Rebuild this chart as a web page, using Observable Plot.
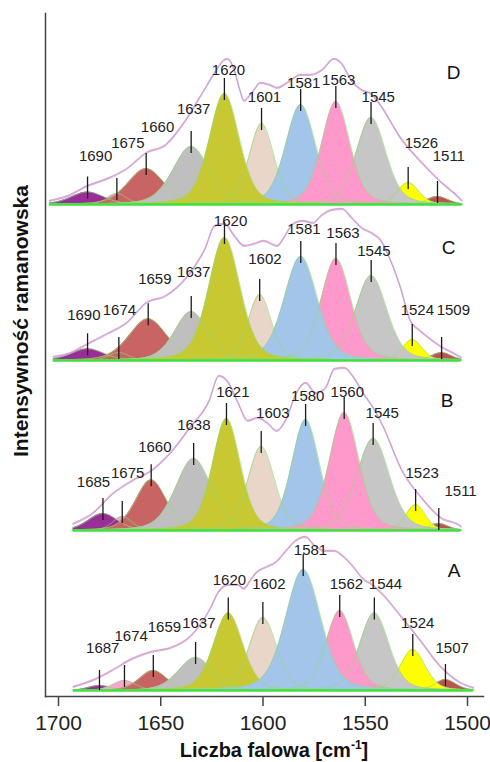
<!DOCTYPE html>
<html>
<head>
<meta charset="utf-8">
<script src="https://cdn.jsdelivr.net/npm/d3@7"></script>
<script src="https://cdn.jsdelivr.net/npm/@observablehq/plot@0.6"></script>
<style>
  html, body { margin: 0; padding: 0; background: #fff; }
  #fig { position: relative; width: 490px; height: 762px; background: #fff; overflow: hidden; }
  #fig svg { position: absolute; left: 0; top: 0; }
  .lab { position: absolute; font-family: 'Liberation Sans', Arial, sans-serif; font-weight: bold; color: #111; white-space: nowrap; line-height: 1; }
</style>
</head>
<body>
<div id="fig"></div>
<script>
// ---------- DATA ----------
const bandPalette = ["#992e99", "#ffa3d3", "#c86464", "#bfbfbf", "#c8c832", "#ead5c9", "#a3c5ea", "#ff99cc", "#c6c6c6", "#ffff00", "#b85454"];
const xTicks = [1700, 1650, 1600, 1550, 1500];

// Panel D
const centersD = [1690, 1675, 1660, 1637, 1620, 1601, 1581, 1563, 1545, 1526, 1511];
const heightsD = [12.5, 11, 36, 58, 111, 81, 100, 103, 87, 22, 8];
const widthsD  = [20, 12, 22, 22, 18, 15, 18, 17, 18, 13, 13];
const labelWnD = [1685.9, 1669.4, 1654.2, 1635.7, 1617.9, 1599.5, 1579.4, 1561.5, 1541.3, 1519.2, 1505.2];
const labelLevelsD = [48, 61, 77, 95, 134, 107, 121, 124, 107, 61, 48];
const envelopeD = [[1709.5,4],[1700,9],[1690,19],[1680,26],[1670,36],[1660,52],[1650,60],[1640,84],[1630,116],[1625,132],[1620,145],[1618.5,146],[1615,135],[1612,114],[1610,104],[1606,112],[1601.5,122],[1597,120],[1593,117],[1588,122],[1581,130],[1576,130],[1570,135],[1564,146],[1560,141],[1555,124],[1550,115],[1545,111],[1540,99],[1530,67],[1520,44],[1510,24],[1500,7],[1498.5,4]];

// Panel C
const centersC = [1690, 1674, 1659, 1637, 1620, 1602, 1581, 1563, 1545, 1524, 1509];
const heightsC = [11.7, 8, 41.7, 49, 123, 66, 104, 102, 85, 21, 8];
const widthsC  = [20, 12, 23, 20, 19, 14, 20, 18, 19, 12, 12];
const labelWnC = [1691.9, 1673.7, 1655.6, 1635.7, 1616.9, 1599.3, 1579.4, 1559.4, 1543.6, 1521.4, 1503];
const labelLevelsC = [45, 50, 81, 88, 139, 101, 131, 127, 109, 50, 50];
const envelopeC = [[1707.5,4],[1700,7],[1690,17],[1680,27],[1670,38],[1660,58],[1650,65],[1640,82],[1630,112],[1625,135],[1620,137],[1615,125],[1610,115],[1605,117],[1600,120],[1595,116],[1593,115],[1590,122],[1585,137],[1580,140],[1575,138],[1570,146],[1565,151],[1560,152],[1555,143],[1550,133],[1545,128],[1540,120],[1535,100],[1530,73],[1525,40],[1520,30],[1515,22],[1510,15],[1500,4.3],[1499,3]];

// Panel B
const centersB = [1685, 1675, 1660, 1638, 1621, 1603, 1580, 1560, 1545, 1523, 1511];
const heightsB = [17, 14, 50.7, 72, 112, 84, 111, 118, 92, 26, 7];
const widthsB  = [18, 12, 19, 22, 17, 16.5, 17, 18, 20, 12, 12];
const labelWnB = [1689.9, 1672.2, 1658.1, 1637.9, 1617.7, 1597, 1578.9, 1558.4, 1540.3, 1519.6, 1499.7];
const labelLevelsB = [48, 57, 83, 105, 138, 117, 134, 138, 117, 57, 39];
const envelopeB = [[1700.5,7],[1690,18],[1680,37],[1670,50],[1660,60],[1650,78],[1640,103],[1630,130],[1625,155],[1620,148],[1615,128],[1610,110],[1605,113],[1600,108],[1595,100],[1590,112],[1585,137],[1580,148],[1575,138],[1570,142],[1565,162],[1560,163],[1555,153],[1550,137],[1545,123],[1540,105],[1530,60],[1520,33],[1510,13],[1500,5],[1499.5,4]];

// Panel A
const centersA = [1687, 1674, 1659, 1637, 1620, 1602, 1581, 1562, 1544, 1524, 1507];
const heightsA = [5, 10, 20, 33, 77.6, 73, 121, 80, 77.6, 41, 11];
const widthsA  = [14, 14, 17, 21, 18, 17, 21.7, 17, 18, 15.5, 13];
const labelWnA = [1685.3, 1670.5, 1653.2, 1635.3, 1619.4, 1598.9, 1577.2, 1558.5, 1538.2, 1521.4, 1503.5];
const labelLevelsA = [42, 54, 63, 67, 110, 106, 140, 106, 106, 67, 42];
const envelopeA = [[1700.7,4],[1690,11],[1680,21],[1670,32],[1660,39],[1650,43],[1640,54],[1630,80],[1625,99],[1620,106],[1615,106],[1612,102],[1608,112],[1605,119],[1600,124],[1595,129],[1590,140],[1585,150],[1580,154],[1575,145],[1570,140],[1565,140],[1560,134],[1555,124],[1550,112],[1545,106],[1540,97],[1530,74],[1520,50],[1510,25],[1500,9],[1492.5,3]];

// ---------- LAYOUT ----------
const panelLayout = [
  {name: "D", centers: centersD, heights: heightsD, widths: widthsD, labelWn: labelWnD, labels: labelLevelsD, envelope: envelopeD, xRange: [67.5, 458.5], baseline: 204, letterTop: 65, letterRight: 460},
  {name: "C", centers: centersC, heights: heightsC, widths: widthsC, labelWn: labelWnC, labels: labelLevelsC, envelope: envelopeC, xRange: [67.5, 458.7], baseline: 360, letterTop: 240, letterRight: 455},
  {name: "B", centers: centersB, heights: heightsB, widths: widthsB, labelWn: labelWnB, labels: labelLevelsB, envelope: envelopeB, xRange: [73.5, 459.5], baseline: 530, letterTop: 393, letterRight: 453},
  {name: "A", centers: centersA, heights: heightsA, widths: widthsA, labelWn: labelWnA, labels: labelLevelsA, envelope: envelopeA, xRange: [74, 458.4], baseline: 690, letterTop: 563, letterRight: 460}
];

const W = 490, H = 762;
const FONT = "'Liberation Sans', Arial, sans-serif";
const fig = document.getElementById("fig");

// fitted band profile (pseudo-Voigt) from each band's centre, height and width
const ETA = 0.3;
function profile(x, c, h, w) {
  const t = (x - c) / w;
  return h * ((1 - ETA) * Math.exp(-4 * Math.LN2 * t * t) + ETA / (1 + 4 * t * t));
}

// ---------- AXIS FRAME ----------
const axisPlot = Plot.plot({
  width: W, height: H,
  marginLeft: 45, marginRight: 7, marginTop: 13, marginBottom: 66,
  style: {fontFamily: FONT, background: "transparent", color: "#222"},
  x: {domain: [1700, 1500], range: [58, 467], axis: null},
  y: {domain: [0, 1], axis: null},
  marks: [
    Plot.frame({anchor: "left", stroke: "#444", strokeWidth: 1.5}),
    Plot.frame({anchor: "bottom", stroke: "#444", strokeWidth: 1.5}),
    Plot.axisX(xTicks, {anchor: "bottom", tickSize: 10, tickPadding: 9, fontSize: 21, label: null, tickFormat: d => String(d), stroke: "#444", strokeWidth: 1.5, fill: "#222"})
  ]
});
fig.appendChild(axisPlot);

// ---------- PANELS ----------
for (const p of panelLayout) {
  const peaks = p.centers.map((c, i) => ({wn: c, h: p.heights[i], w: p.widths[i], lx: p.labelWn[i], ly: p.labels[i], band: i}));
  const lo = d3.min(p.envelope, d => d[0]);
  const hi = d3.max(p.envelope, d => d[0]);
  const order = d3.sort(peaks, d => d.h);
  const pts = [];
  for (const pk of order) {
    for (let k = 0; lo + k * 0.5 <= hi + 1e-9; k++) {
      const x = lo + k * 0.5;
      pts.push({band: pk.band, wn: x, v: profile(x, pk.wn, pk.h, pk.w), zero: 0});
    }
  }
  const chart = Plot.plot({
    width: W, height: H,
    marginTop: p.letterTop, marginRight: W - p.letterRight, marginBottom: H - p.baseline, marginLeft: 10,
    style: {fontFamily: FONT, background: "transparent", overflow: "visible"},
    x: {domain: [1700, 1500], range: p.xRange, axis: null},
    y: {domain: [0, 200], range: [p.baseline, p.baseline - 200], axis: null},
    color: {type: "ordinal", domain: d3.range(bandPalette.length), range: bandPalette},
    marks: [
      Plot.areaY(pts, {x: "wn", y1: "zero", y2: "v", z: "band", fill: "band"}),
      Plot.line(pts, {x: "wn", y: "v", z: "band", stroke: "#8edc74", strokeWidth: 0.8, strokeOpacity: 0.85}),
      Plot.ruleY([{lo, hi}], {y: () => 0, x1: "lo", x2: "hi", stroke: "#3ee03e", strokeWidth: 2.5}),
      Plot.line(p.envelope, {x: d => d[0], y: d => d[1], stroke: "#eba2c8", strokeWidth: 1.4, curve: "monotone-x"}),
      Plot.line(p.envelope, {x: d => d[0], y: d => d[1], stroke: "#a4a4ee", strokeWidth: 0.9, strokeOpacity: 0.8, dy: 1, curve: "monotone-x"}),
      Plot.ruleX(peaks, {x: "wn", y1: d => Math.max(0, d.h - 7), y2: d => d.h + 15, stroke: "#1a1a1a", strokeWidth: 1.3}),
      Plot.text(peaks, {x: "lx", y: "ly", text: d => String(d.wn), fontSize: 15, fill: "#222"}),
      Plot.text([p.name], {text: d => d, frameAnchor: "top-right", fontSize: 19, fill: "#111"})
    ]
  });
  fig.appendChild(chart);
}

// ---------- AXIS TITLES ----------
const ylab = document.createElement("div");
ylab.className = "lab";
ylab.style.fontSize = "21px";
ylab.textContent = "Intensywność ramanowska";
ylab.style.left = "20px"; ylab.style.top = "321px";
ylab.style.transform = "translate(-50%, -50%) rotate(-90deg)";
fig.appendChild(ylab);

const xlab = document.createElement("div");
xlab.className = "lab";
xlab.style.fontSize = "20px";
xlab.innerHTML = "Liczba falowa [cm<sup style=\"font-size:0.6em;vertical-align:0.7em;line-height:0\">-1</sup>]";
xlab.style.left = "274px"; xlab.style.top = "750px";
xlab.style.transform = "translate(-50%, -50%)";
fig.appendChild(xlab);
</script>
</body>
</html>
